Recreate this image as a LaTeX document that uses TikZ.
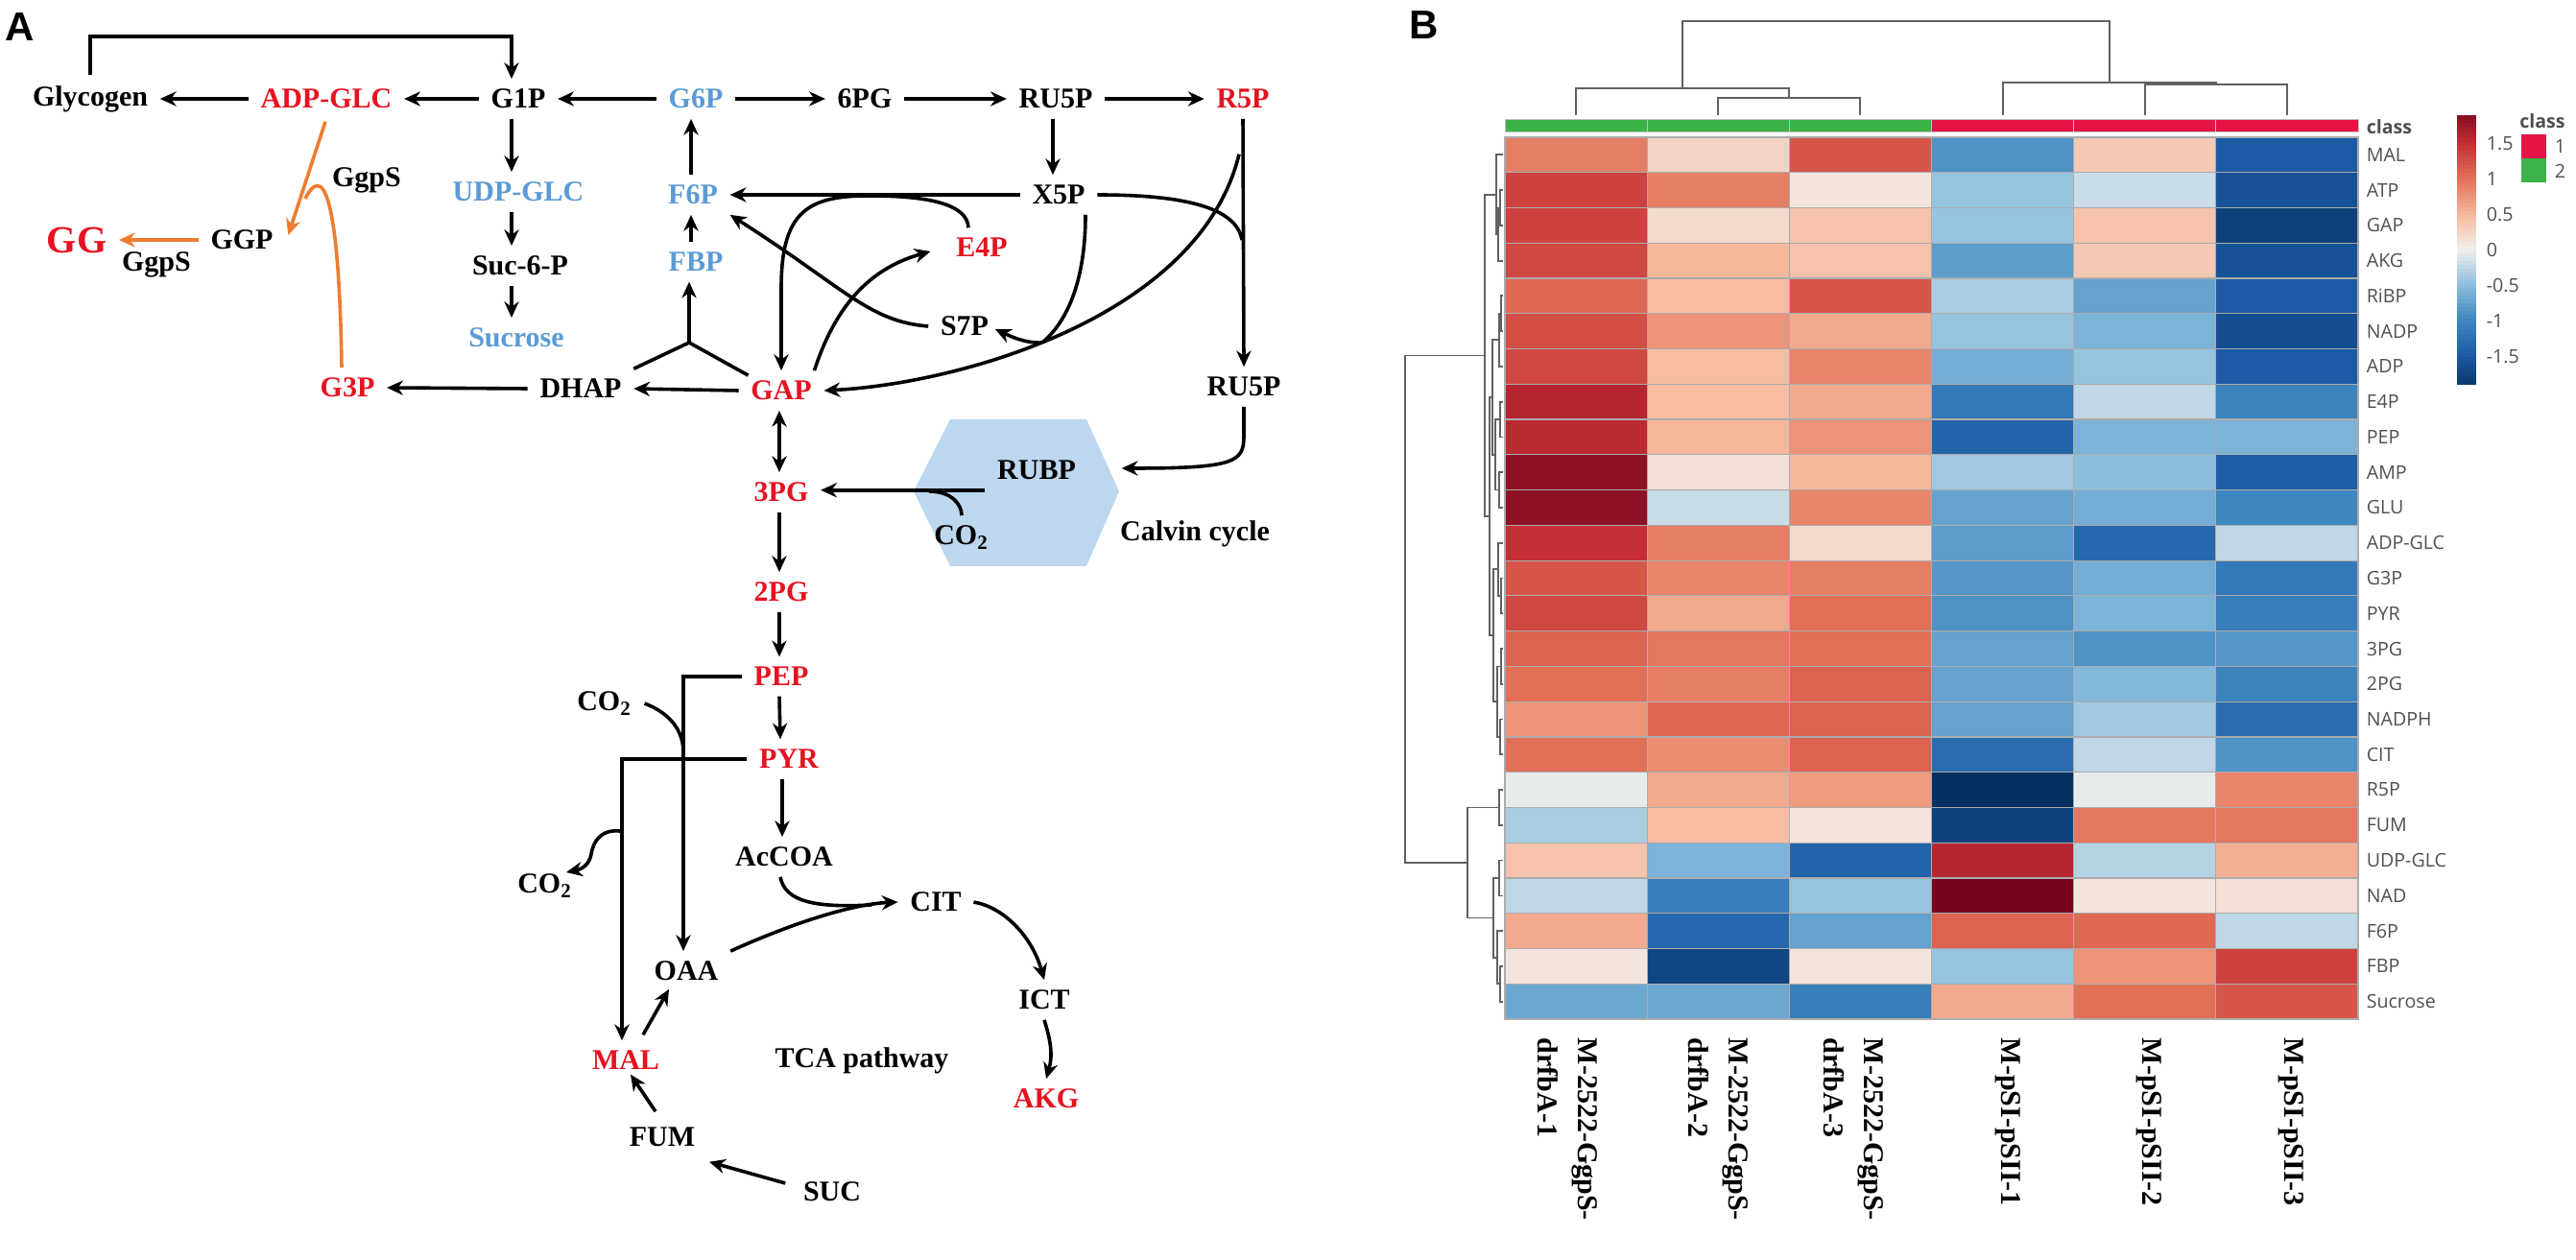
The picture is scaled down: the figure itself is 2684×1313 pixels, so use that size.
\documentclass[tikz,border=0pt]{standalone}
\usepackage{fontspec}
\setmainfont{Liberation Serif}
\newfontfamily\hmfont{Open Sans}
\newfontfamily\pfont{Liberation Sans}
\usetikzlibrary{arrows.meta,calc}
\definecolor{pred}{RGB}{230,18,32}
\definecolor{pblue}{RGB}{91,155,213}
\definecolor{porange}{RGB}{237,125,49}
\definecolor{hexfill}{RGB}{189,215,238}
\definecolor{clsred}{RGB}{230,20,70}
\definecolor{clsgreen}{RGB}{60,178,72}
\definecolor{hmgray}{RGB}{80,80,80}
\definecolor{hmA0}{RGB}{5,48,97}
\definecolor{hmA1}{RGB}{28,90,165}
\definecolor{hmA2}{RGB}{62,135,192}
\definecolor{hmA3}{RGB}{140,190,220}
\definecolor{hmA4}{RGB}{242,240,238}
\definecolor{hmA5}{RGB}{246,183,155}
\definecolor{hmA6}{RGB}{226,112,88}
\definecolor{hmA7}{RGB}{196,46,52}
\definecolor{hmA8}{RGB}{118,4,30}
\newcommand\hmcol[1]{%
  \pgfmathsetmacro\hmv{max(-1.999,min(1.999,#1))}%
  \pgfmathtruncatemacro\hmseg{floor((\hmv+2)*2)}%
  \pgfmathtruncatemacro\hmsegp{\hmseg+1}%
  \pgfmathsetmacro\hmfrac{100*((\hmv+2)*2-\hmseg)}%
  \colorlet{hmc}{hmA\hmsegp!\hmfrac!hmA\hmseg}%
}
\newcommand\djoin[5]{\draw[dend] (#2,#3) -- (#1,#3) -- (#1,#5) -- (#4,#5);}
\begin{document}
\begin{tikzpicture}[x=0.25pt,y=-0.25pt,
  lab/.style={font=\fontsize{7.5}{9}\selectfont\bfseries, inner xsep=3pt, inner ysep=2.5pt},
  arr/.style={line width=0.9pt, -{Stealth[length=4.2pt,width=3.8pt]}},
  darr/.style={line width=0.9pt, {Stealth[length=4.2pt,width=3.8pt]}-{Stealth[length=4.2pt,width=3.8pt]}},
  pline/.style={line width=0.9pt},
  oarr/.style={line width=0.9pt, porange, -{Stealth[length=4.2pt,width=3.8pt]}},
  oline/.style={line width=0.9pt, porange},
  dend/.style={line width=0.45pt, draw=hmgray!90},
  hmlab/.style={font=\hmfont\fontsize{4.9}{6}\selectfont, text=hmgray, inner sep=1pt},
  collab/.style={font=\fontsize{7.5}{10.5}\selectfont\bfseries, rotate=-90, anchor=west, align=left, inner sep=0pt},
  plet/.style={font=\pfont\bfseries\fontsize{10.5}{12}\selectfont, inner sep=0pt}
]
\useasboundingbox (0,0) rectangle (2684,1313);

% ---------------- Panel A ----------------
\node[plet] (labA) at (21,28) {A};
\fill[hexfill] (952,512) -- (990,437) -- (1132,437) -- (1166,512) -- (1132,590) -- (990,590) -- cycle;

\node[lab] (glycogen) at (94,103) {Glycogen};
\node[lab,text=pred] (adpglc) at (340,103) {ADP-GLC};
\node[lab] (g1p) at (540,103) {G1P};
\node[lab,text=pblue] (g6p) at (725,103) {G6P};
\node[lab] (pg6) at (901,103) {6PG};
\node[lab] (ru5pa) at (1100,103) {RU5P};
\node[lab,text=pred] (r5p) at (1295,103) {R5P};
\node[lab,text=pblue] (udpglc) at (540,200) {UDP-GLC};
\node[lab] (suc6p) at (542,277) {Suc-6-P};
\node[lab,text=pblue] (sucrose) at (538,352) {Sucrose};
\node[lab,text=pblue] (f6p) at (722,203) {F6P};
\node[lab,text=pblue] (fbp) at (725,273) {FBP};
\node[lab] (x5p) at (1103,203) {X5P};
\node[lab,text=pred] (e4p) at (1023,258) {E4P};
\node[lab] (s7p) at (1005,340) {S7P};
\node[lab,text=pred] (gap) at (814,407) {GAP};
\node[lab] (dhap) at (605,405) {DHAP};
\node[lab,text=pred] (g3p) at (362,404) {G3P};
\node[lab] (ru5pb) at (1296,403) {RU5P};
\node[lab,text=pred] (p3g) at (814,513) {3PG};
\node[lab,text=pred] (p2g) at (814,617) {2PG};
\node[lab,text=pred] (pep) at (814,705) {PEP};
\node[lab,text=pred] (pyr) at (822,791) {PYR};
\node[lab] (accoa) at (817,893) {AcCOA};
\node[lab] (oaa) at (715,1012) {OAA};
\node[lab,text=pred] (mal) at (652,1105) {MAL};
\node[lab] (fum) at (690,1185) {FUM};
\node[lab] (suc) at (867,1242) {SUC};
\node[lab] (cit) at (975,940) {CIT};
\node[lab] (ict) at (1088,1042) {ICT};
\node[lab,text=pred] (akg) at (1090,1145) {AKG};
\node[lab] (tca) at (898,1105) {TCA pathway};
\node[lab] (co2a) at (630,733) {CO\textsubscript{2}};
\node[lab] (co2b) at (568,923) {CO\textsubscript{2}};
\node[lab] (co2c) at (1002,560) {CO\textsubscript{2}};
\node[lab] (rubp) at (1080,490) {RUBP};
\node[lab] (calvin) at (1245,556) {Calvin cycle};
\node[lab,text=pred,font=\fontsize{10}{12}\selectfont\bfseries] (gg) at (80,250) {GG};
\node[lab] (ggp) at (252,250) {GGP};
\node[lab] (ggps1) at (382,188) {GgpS};
\node[lab] (ggps2) at (163,276) {GgpS};

% top row
\draw[arr] (glycogen.north) -- (94,38) -- (533,38) -- ($(g1p.north)+(-7,0)$);
\draw[arr] (adpglc.west) -- (glycogen.east);
\draw[arr] (g1p.west) -- (adpglc.east);
\draw[arr] (g6p.west) -- (g1p.east);
\draw[arr] (g6p.east) -- (pg6.west);
\draw[arr] (pg6.east) -- (ru5pa.west);
\draw[arr] (ru5pa.east) -- (r5p.west);
% sucrose branch
\draw[arr] ($(g1p.south)+(-7,0)$) -- ($(udpglc.north)+(-7,0)$);
\draw[arr] ($(udpglc.south)+(-7,0)$) -- ($(suc6p.north)+(-9,0)$);
\draw[arr] ($(suc6p.south)+(-9,0)$) -- ($(sucrose.north)+(-5,0)$);
% F6P / FBP
\draw[arr] ($(f6p.north)+(-2,0)$) -- ($(g6p.south)+(-5,0)$);
\draw[arr] ($(fbp.north)+(-5,0)$) -- ($(f6p.south)+(-2,0)$);
\coordinate (yj) at (718,357);
\draw[pline] (dhap.north east) -- (yj) -- ($(gap.north west)+(10,5)$);
\draw[arr] (yj) -- ($(fbp.south)+(-7,0)$);
\draw[arr] (gap.west) -- (dhap.east);
\draw[arr] (dhap.west) -- (g3p.east);
% pentose phosphate
\draw[arr] ($(ru5pa.south)+(-3,0)$) -- ($(x5p.north)+(-6,0)$);
\draw[arr] (x5p.west) -- (f6p.east);
\draw[arr] ($(e4p.north)+(-14,0)$) .. controls (1008,212) and (965,204) .. (905,204)
   .. controls (840,204) and (814,222) .. (814,300) -- (gap.north);
\draw[arr] (s7p.west) .. controls (905,335) and (880,300) .. (f6p.south east);
\draw[arr] ($(gap.north east)+(-10,0)$) .. controls (870,320) and (905,280) .. ($(e4p.west)+(-14,4)$);
\coordinate (jx) at (1086,357);
\draw[pline] ($(x5p.south)+(28,0)$) .. controls (1131,280) and (1118,330) .. (jx);
\draw[arr] ($(r5p.south)+(-4,37)$) .. controls (1250,330) and (1000,400) .. (gap.east);
\draw[arr] (r5p.south) -- (ru5pb.north);
\draw[pline] (x5p.east) .. controls (1230,203) and (1288,215) .. (1294,250);
\draw[arr] (jx) .. controls (1068,358) and (1052,350) .. ($(s7p.east)+(-6,3)$);
% Calvin
\draw[arr] (ru5pb.south) -- (1296,455) .. controls (1296,482) and (1285,488) .. ($(rubp.east)+(35,-2)$);
\draw[arr] (rubp.south west) -- (rubp.south west -| p3g.east);
\draw[pline] (co2c.north) .. controls (1002,526) and (992,512) .. (968,512);
% glycolysis
\draw[darr] ($(gap.south)+(-2,0)$) -- ($(p3g.north)+(-2,0)$);
\draw[arr] ($(p3g.south)+(-2,0)$) -- ($(p2g.north)+(-2,0)$);
\draw[arr] ($(p2g.south)+(-2,0)$) -- ($(pep.north)+(-2,0)$);
\draw[arr] ($(pep.south)+(-2,0)$) -- ($(pyr.north)+(-9,0)$);
\draw[arr] ($(pyr.south)+(-7,0)$) -- ($(accoa.north)+(-2,0)$);
\draw[arr] (pep.west) -| ($(oaa.north)+(-3,0)$);
\draw[pline] (co2a.east) .. controls (695,742) and (711,758) .. (712,782);
\draw[arr] (pyr.west) -| ($(mal.north)+(-4,0)$);
\draw[arr] (646,866) .. controls (625,864) and (618,878) .. (616,890) .. controls (614,902) and (605,906) .. (590,909);
% TCA
\draw[arr] (oaa.north east) .. controls (830,960) and (890,942) .. (cit.west);
\draw[pline] ($(accoa.south)+(-4,0)$) .. controls (818,940) and (850,946) .. (908,943);
\draw[arr] (cit.east) .. controls (1045,945) and (1075,975) .. (ict.north);
\draw[arr] (ict.south) .. controls (1095,1085) and (1097,1100) .. (akg.north);
\draw[arr] ($(mal.north)+(18,-6)$) -- ($(oaa.south)+(-18,-2)$);
\draw[arr] ($(fum.north)+(-7,-6)$) -- ($(mal.south)+(5,-6)$);
\draw[arr] ($(suc.west)+(-6,-9)$) -- ($(fum.south east)+(2,5)$);
% GG branch
\draw[oarr] (ggp.west) -- (gg.east);
\draw[oarr] ($(adpglc.south)+(-1,3)$) -- ($(ggp.east)+(3,-5)$);
\draw[oline] ($(g3p.north)+(-6,0)$) .. controls (354,240) and (342,160) .. (318,207);

% ---------------- Panel B ----------------
\node[plet] (labB) at (1484,26) {B};
\def\hmL{1568}\def\hmT{143}\def\hmW{148.17}\def\hmH{36.76}
% class bar
\foreach \cl [count=\cc] in {clsgreen,clsgreen,clsgreen,clsred,clsred,clsred}
  \fill[\cl, draw=gray!50, line width=0.2pt] ({\hmL+(\cc-1)*\hmW},124) rectangle ({\hmL+\cc*\hmW},137);
\node[hmlab, font=\hmfont\bfseries\fontsize{4.9}{6}\selectfont, anchor=west] (clslab) at (2461,132) {class};
% heat map
\foreach \nm/\va/\vb/\vc/\vd/\ve/\vf [count=\r] in {
 MAL/0.9/0.25/1.2/-0.9/0.35/-1.5,
 ATP/1.35/0.9/0.1/-0.45/-0.2/-1.6,
 GAP/1.35/0.2/0.4/-0.45/0.4/-1.8,
 AKG/1.3/0.5/0.4/-0.8/0.35/-1.6,
 RiBP/1.05/0.45/1.2/-0.35/-0.75/-1.5,
 NADP/1.25/0.75/0.6/-0.45/-0.6/-1.65,
 ADP/1.3/0.45/0.85/-0.65/-0.45/-1.5,
 E4P/1.6/0.45/0.6/-1.15/-0.25/-1.05,
 PEP/1.55/0.5/0.75/-1.4/-0.6/-0.6,
 AMP/1.85/0.15/0.5/-0.4/-0.5/-1.45,
 GLU/1.85/-0.2/0.85/-0.75/-0.65/-1.0,
 ADP-GLC/1.5/0.9/0.2/-0.8/-1.35/-0.25,
 G3P/1.2/0.85/0.9/-0.85/-0.65/-1.15,
 PYR/1.3/0.6/1.0/-0.9/-0.6/-1.1,
 3PG/1.1/0.95/1.0/-0.75/-0.9/-0.85,
 2PG/1.0/0.9/1.1/-0.75/-0.55/-1.05,
 NADPH/0.75/1.05/1.1/-0.75/-0.4/-1.3,
 CIT/1.0/0.8/1.1/-1.3/-0.25/-0.9,
 R5P/-0.05/0.6/0.7/-2.0/-0.05/0.85,
 FUM/-0.35/0.45/0.1/-1.8/0.95/0.95,
 UDP-GLC/0.4/-0.6/-1.4/1.6/-0.3/0.55,
 NAD/-0.25/-1.1/-0.45/2.0/0.1/0.15,
 F6P/0.6/-1.35/-0.75/1.1/1.05/-0.25,
 FBP/0.1/-1.75/0.1/-0.45/0.75/1.35,
 Sucrose/-0.7/-0.7/-1.1/0.6/1.0/1.2}{
  \foreach \v [count=\cc] in {\va,\vb,\vc,\vd,\ve,\vf}{
    \hmcol{\v}
    \fill[hmc, draw=gray!65, line width=0.3pt] ({\hmL+(\cc-1)*\hmW},{\hmT+(\r-1)*\hmH}) rectangle ({\hmL+\cc*\hmW},{\hmT+\r*\hmH});
  }
  \node[hmlab, anchor=west] (row\r) at (2461,{\hmT+(\r-0.5)*\hmH}) {\nm};
}
% column labels
\node[collab] (col1) at (1633,1081) {M-2522-GgpS-\\drfbA-1};
\node[collab] (col2) at (1790,1081) {M-2522-GgpS-\\drfbA-2};
\node[collab] (col3) at (1931,1081) {M-2522-GgpS-\\drfbA-3};
\node[collab] (col4) at (2092,1081) {M-pSI-pSII-1};
\node[collab] (col5) at (2239,1081) {M-pSI-pSII-2};
\node[collab] (col6) at (2387,1081) {M-pSI-pSII-3};
% top dendrogram
\draw[dend] (1790,120) -- (1790,102) -- (1938,102) -- (1938,120);
\draw[dend] (1642,120) -- (1642,92) -- (1864,92) -- (1864,102);
\draw[dend] (2235,120) -- (2235,88) -- (2383,88) -- (2383,120);
\draw[dend] (2087,120) -- (2087,86) -- (2309,86) -- (2309,88);
\draw[dend] (1753,92) -- (1753,22) -- (2198,22) -- (2198,86);
% row dendrogram
\djoin{1563}{1566}{198.1}{1566}{234.9}
\djoin{1561}{1563}{216.5}{1566}{271.7}
\djoin{1559}{1566}{161.4}{1561}{244.1}
\djoin{1564}{1566}{308.4}{1566}{345.2}
\djoin{1562}{1564}{326.8}{1566}{382.0}
\djoin{1563}{1566}{418.7}{1566}{455.5}
\djoin{1562}{1566}{492.2}{1566}{529.0}
\djoin{1558}{1563}{437.1}{1562}{510.6}
\djoin{1555}{1562}{354.4}{1558}{473.9}
\djoin{1564}{1566}{602.5}{1566}{639.3}
\djoin{1561}{1566}{565.8}{1564}{620.9}
\djoin{1564}{1566}{676.1}{1566}{712.8}
\djoin{1563}{1566}{749.6}{1566}{786.3}
\djoin{1560}{1564}{694.5}{1563}{768.0}
\djoin{1556}{1561}{593.4}{1560}{731.3}
\djoin{1552}{1555}{414.2}{1556}{662.4}
\djoin{1547}{1559}{202.8}{1552}{538.3}
\djoin{1562}{1566}{823.1}{1566}{859.9}
\djoin{1562}{1566}{896.6}{1566}{933.4}
\djoin{1563}{1566}{1006.9}{1566}{1043.7}
\djoin{1560}{1566}{970.2}{1563}{1025.3}
\djoin{1556}{1562}{915.0}{1560}{997.8}
\djoin{1529}{1562}{841.5}{1556}{956.4}
\djoin{1464}{1547}{370.6}{1529}{899.0}
% colour bar
\foreach \i in {0,...,69}{
  \hmcol{1.9-(\i+0.5)*3.8/70}
  \fill[hmc] (2560,{120+\i*4}) rectangle (2580,{124.6+\i*4});
}
\foreach \t/\tv in {1.5/1.5,1/1,0.5/0.5,0/0,-0.5/-0.5,-1/-1,-1.5/-1.5}
  \node[hmlab, anchor=west] (tick\t) at (2586,{261-74*\tv}) {\t};
% class legend
\node[hmlab, font=\hmfont\bfseries\fontsize{4.9}{6}\selectfont] (leglab) at (2649,126) {class};
\fill[clsred] (2627,140) rectangle (2653,165);
\fill[clsgreen] (2627,165) rectangle (2653,190);
\node[hmlab, anchor=west] (leg1) at (2657,153) {1};
\node[hmlab, anchor=west] (leg2) at (2657,178) {2};
\end{tikzpicture}
\end{document}
